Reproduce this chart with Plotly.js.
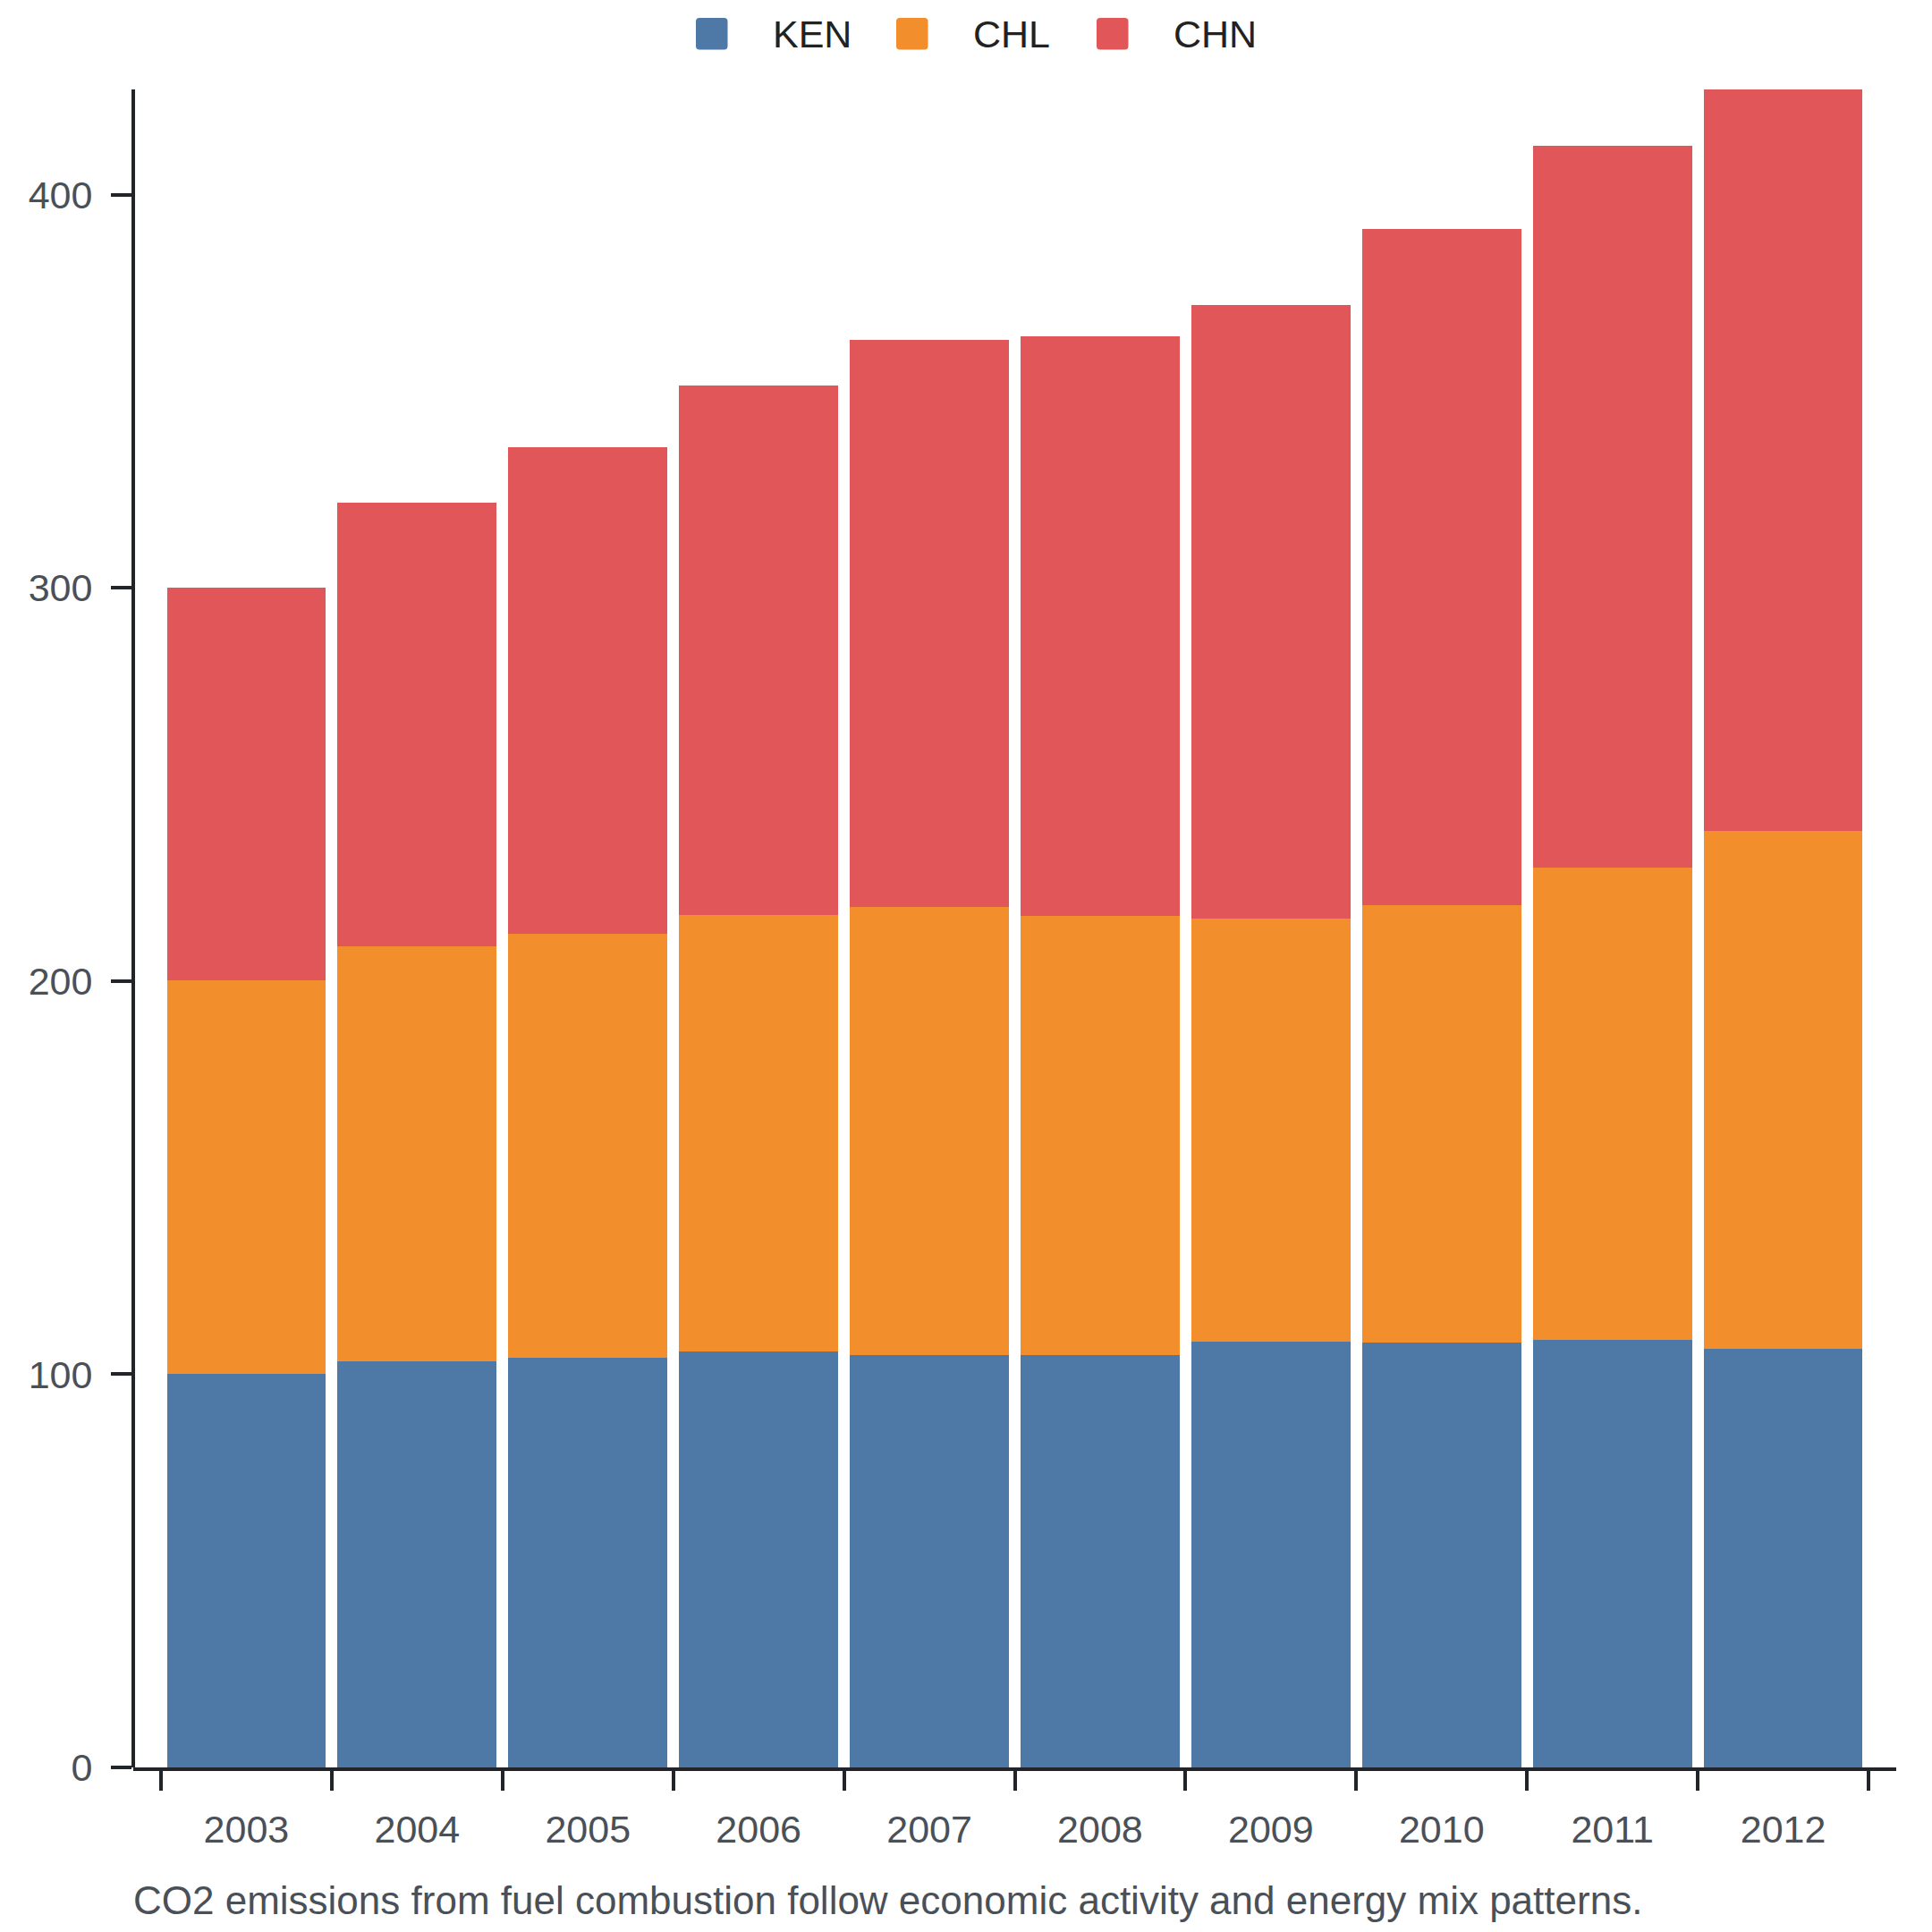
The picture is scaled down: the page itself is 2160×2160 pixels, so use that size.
<!DOCTYPE html>
<html>
<head>
<meta charset="utf-8">
<script src="https://cdn.plot.ly/plotly-3.0.1.min.js"></script>
<style>
  html, body { margin: 0; padding: 0; background: #ffffff; }
  #chart { width: 2160px; height: 2160px; }
</style>
</head>
<body>
<div id="chart"></div>
<script>
const years = ['2003', '2004', '2005', '2006', '2007', '2008', '2009', '2010', '2011', '2012'];
const seriesNames = ['KEN', 'CHL', 'CHN'];
const seriesColors = ['#4e79a7', '#f28e2b', '#e15759'];
const kenValues = [100.0, 103.4, 104.3, 105.7, 104.9, 104.9, 108.2, 108.0, 108.7, 106.4];
const chlValues = [100.2, 105.4, 107.7, 111.1, 113.9, 111.7, 107.7, 111.4, 120.2, 131.8];
const chnValues = [99.9, 113.0, 123.9, 134.7, 144.4, 147.5, 156.1, 171.9, 183.5, 188.6];
const yTickValues = [0, 100, 200, 300, 400];
const caption = 'CO2 emissions from fuel combustion follow economic activity and energy mix patterns.';

const target = document.getElementById('chart');
const width = 2160;
const height = 2160;
const margin = { l: 149, r: 40, t: 100, b: 184 };
const plotW = width - margin.l - margin.r;
const plotH = height - margin.t - margin.b;

// pixel -> paper helpers for the hand-made legend and caption
const px = x => (x - margin.l) / plotW;
const py = y => (height - margin.b - y) / plotH;

const axisColor = '#212429';
const tickTextColor = '#4a5058';
const font = '"Liberation Sans", Arial, sans-serif';

const allValues = [kenValues, chlValues, chnValues];
const totals = years.map((_, i) => allValues.reduce((s, arr) => s + arr[i], 0));
const yMax = Math.max(...totals);

const traces = seriesNames.map((name, k) => ({
  type: 'bar',
  name: name,
  x: years,
  y: allValues[k],
  marker: { color: seriesColors[k], line: { width: 0 } },
  showlegend: false,
  hovertemplate: name + ' %{x}: %{y:.1f}<extra></extra>'
}));

// rounded square path in paper units
function roundedSquare(x0, y0, size, r) {
  const x1 = x0 + size;
  const y1 = y0 + size;
  const pts = [
    ['M', x0 + r, y0], ['L', x1 - r, y0], ['Q', x1, y0, x1, y0 + r],
    ['L', x1, y1 - r], ['Q', x1, y1, x1 - r, y1], ['L', x0 + r, y1],
    ['Q', x0, y1, x0, y1 - r], ['L', x0, y0 + r], ['Q', x0, y0, x0 + r, y0]
  ];
  return pts.map(p => {
    const cmd = p[0];
    const coords = p.slice(1);
    const out = [];
    for (let i = 0; i < coords.length; i += 2) {
      out.push(px(coords[i]).toFixed(5) + ',' + py(coords[i + 1]).toFixed(5));
    }
    return cmd + out.join(' ');
  }).join(' ') + ' Z';
}

const shapes = [];
const annotations = [];
seriesNames.forEach((name, k) => {
  const left = 778 + 224 * k;
  shapes.push({
    type: 'path',
    xref: 'paper',
    yref: 'paper',
    path: roundedSquare(left, 20, 35.5, 4),
    fillcolor: seriesColors[k],
    line: { width: 0 }
  });
  annotations.push({
    xref: 'paper',
    yref: 'paper',
    x: px(left + 84),
    y: py(38),
    xanchor: 'left',
    yanchor: 'middle',
    text: name,
    showarrow: false,
    font: { family: font, size: 43, color: '#222222' }
  });
});

annotations.push({
  xref: 'paper',
  yref: 'paper',
  x: px(147),
  y: py(2124),
  xanchor: 'left',
  yanchor: 'middle',
  text: caption,
  showarrow: false,
  font: { family: font, size: 44, color: tickTextColor }
});

const pad = 31 / ((2089 - 180) / 10);

const layout = {
  width: width,
  height: height,
  margin: margin,
  paper_bgcolor: '#ffffff',
  plot_bgcolor: '#ffffff',
  font: { family: font, size: 43, color: tickTextColor },
  barmode: 'stack',
  bargap: 0.069,
  showlegend: false,
  xaxis: {
    type: 'category',
    domain: [0, 1],
    range: [-0.5 - pad, years.length - 0.5 + pad],
    showline: true,
    linewidth: 4,
    linecolor: axisColor,
    ticks: 'outside',
    tickson: 'boundaries',
    ticklen: 22,
    tickwidth: 4,
    tickcolor: axisColor,
    showgrid: false,
    zeroline: false,
    ticklabelstandoff: 28,
    tickfont: { family: font, size: 43, color: tickTextColor }
  },
  yaxis: {
    anchor: 'free',
    position: 0,
    range: [0, yMax],
    tickvals: yTickValues,
    showline: true,
    linewidth: 4,
    linecolor: axisColor,
    ticks: 'outside',
    ticklen: 23,
    tickwidth: 4,
    tickcolor: axisColor,
    showgrid: false,
    zeroline: false,
    ticklabelstandoff: 12,
    tickfont: { family: font, size: 43, color: tickTextColor }
  },
  shapes: shapes,
  annotations: annotations
};

Plotly.newPlot(target, traces, layout, { displayModeBar: false, staticPlot: true });
</script>
</body>
</html>
